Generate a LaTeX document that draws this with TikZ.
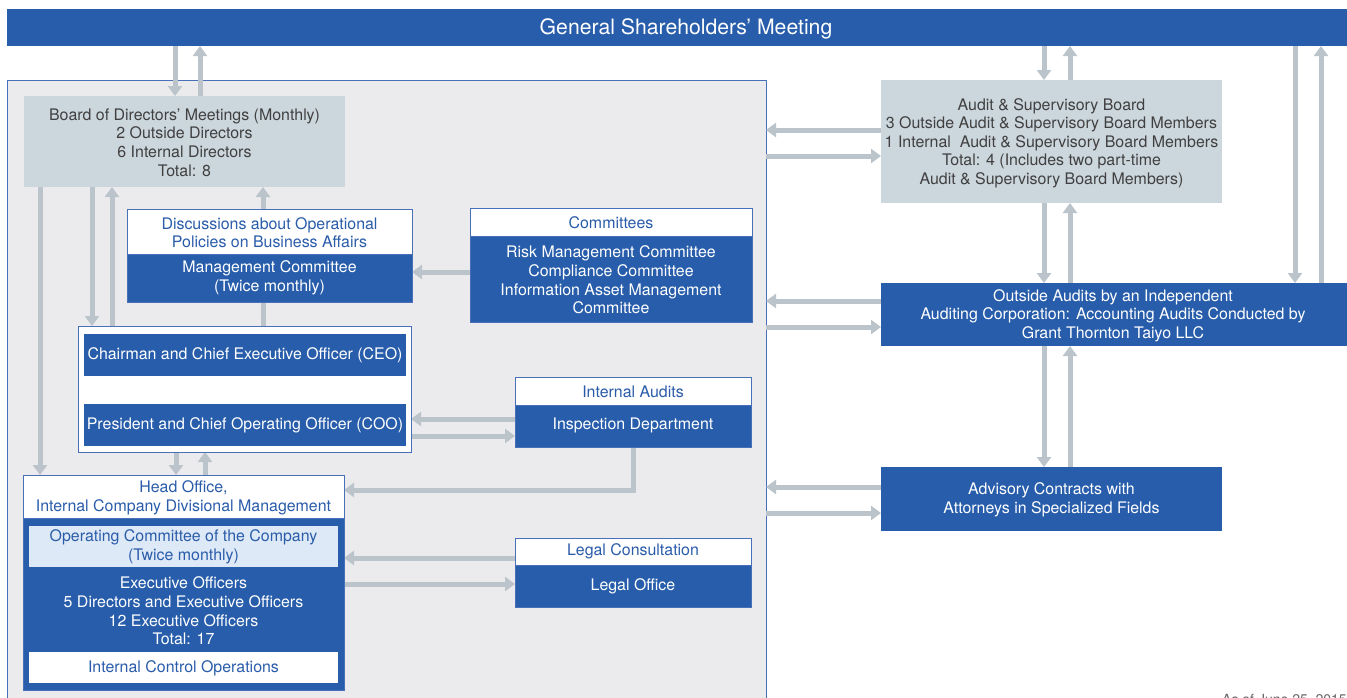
\documentclass[tikz,border=0pt]{standalone}
\usepackage{fontspec}
\setmainfont{TeX Gyre Heros}
\usetikzlibrary{arrows.meta,fit}
\definecolor{cblue}{RGB}{39,93,170}
\definecolor{cborder}{RGB}{72,112,184}
\definecolor{cgray}{RGB}{204,214,221}
\definecolor{carrow}{RGB}{186,196,202}
\definecolor{cpanel}{RGB}{235,235,238}
\definecolor{cbtext}{RGB}{42,92,170}
\definecolor{cgtext}{RGB}{64,64,64}
\definecolor{clight}{RGB}{221,233,246}
\pgfdeclarelayer{bg}
\pgfdeclarelayer{arrowlayer}
\pgfsetlayers{bg,arrowlayer,main}
\tikzset{
  box/.style={inner sep=0pt, outer sep=0pt},
  bluebox/.style={box, fill=cblue, draw=cborder, line width=0.6pt},
  whitebox/.style={box, fill=white, draw=cborder, line width=0.6pt},
  graybox/.style={box, fill=cgray},
  lightbox/.style={box, fill=clight},
  txt/.style={inner sep=0pt, align=center, font=\fontsize{11.95}{13.95}\selectfont},
  txtw/.style={txt, text=white},
  txtb/.style={txt, text=cbtext},
  txtg/.style={txt, text=cgtext},
  arr/.style={draw=carrow, line width=3.75pt, -{Triangle[width=10.5pt,length=7.5pt]}},
}
\begin{document}
\begin{tikzpicture}[x=0.75pt,y=-0.75pt]
\useasboundingbox (0,0) rectangle (1347,697);
% panel
\begin{pgfonlayer}{bg}
\node[box, fill=cpanel, draw=cborder, line width=0.6pt, fit={(7,80) (766,720)}] (panel) {};
\end{pgfonlayer}
% banner
\node[box, fill=cblue, fit={(7,9) (1347,46)}] (gsm) {};
\node[txtw, font=\fontsize{15.9}{18}\selectfont] (gsmt) at (686,28.5) {General Shareholders’ Meeting};
% board
\node[graybox, fit={(24,96) (345,187)}] (board) {};
\node[txtg] (boardt) at (184.5,142.5) {Board of Directors’ Meetings (Monthly)\\2 Outside Directors\\6 Internal Directors\\Total: 8};
% management
\node[bluebox, fit={(127,209) (412,302)}] (mgmt) {};
\node[whitebox, fit={(127,209) (412,254)}] (disc) {};
\node[txtb] (disct) at (269.5,232.5) {Discussions about Operational\\Policies on Business Affairs};
\node[txtw] (mgmtt) at (269.5,278) {Management Committee\\(Twice monthly)};
% committees
\node[bluebox, fit={(470,208) (752,322)}] (comm) {};
\node[whitebox, fit={(470,208) (752,236)}] (commh) {};
\node[txtb] (commht) at (611,222.5) {Committees};
\node[txtw] (commt) at (611,280) {Risk Management Committee\\Compliance Committee\\Information Asset Management\\Committee};
% CEO group
\node[whitebox, fit={(78,326) (411,452)}] (exec) {};
\node[box, fill=cblue, fit={(84,334) (406,376)}] (ceo) {};
\node[txtw] (ceot) at (245,355.5) {Chairman and Chief Executive Officer (CEO)};
\node[box, fill=cblue, fit={(84,404) (406,446)}] (coo) {};
\node[txtw] (coot) at (245,425.5) {President and Chief Operating Officer (COO)};
% internal audits
\node[bluebox, fit={(515,377) (751,447)}] (ia) {};
\node[whitebox, fit={(515,377) (751,405)}] (iah) {};
\node[txtb] (iaht) at (633,392) {Internal Audits};
\node[txtw] (iat) at (633,425.5) {Inspection Department};
% head office
\node[bluebox, fit={(23,475) (344,690)}] (ho) {};
\node[whitebox, fit={(23,475) (344,518)}] (hoh) {};
\node[txtb] (hoht) at (183.5,498) {Head Office,\\Internal Company Divisional Management};
\node[lightbox, fit={(29,526) (338,567)}] (opc) {};
\node[txtb] (opct) at (183.5,547) {Operating Committee of the Company\\(Twice monthly)};
\node[txtw] (eot) at (183.5,611) {Executive Officers\\5 Directors and Executive Officers\\12 Executive Officers\\Total: 17};
\node[box, fill=white, fit={(29,652) (338,683)}] (ico) {};
\node[txtb] (icot) at (183.5,668.5) {Internal Control Operations};
% legal
\node[bluebox, fit={(515,538) (751,607)}] (legal) {};
\node[whitebox, fit={(515,538) (751,565)}] (legalh) {};
\node[txtb] (legalht) at (633,551.5) {Legal Consultation};
\node[txtw] (legalt) at (633,586.5) {Legal Office};
% right side
\node[graybox, fit={(881,80) (1222,203)}] (asb) {};
\node[txtg] (asbt) at (1051.5,143) {Audit \& Supervisory Board\\3 Outside Audit \& Supervisory Board Members\\1 Internal~ Audit \& Supervisory Board Members\\Total: 4 (Includes two part-time\\Audit \& Supervisory Board Members)};
\node[box, fill=cblue, fit={(881,283) (1347,346)}] (oa) {};
\node[txtw] (oat) at (1113,315.5) {Outside Audits by an Independent\\Auditing Corporation: Accounting Audits Conducted by\\Grant Thornton Taiyo LLC};
\node[box, fill=cblue, fit={(881,467) (1222,531)}] (adv) {};
\node[txtw] (advt) at (1051.5,500) {Advisory Contracts with\\Attorneys in Specialized Fields};
% date (cut off at the bottom edge, as in the reference)
\node[txtg, anchor=north east, font=\fontsize{10.5}{12}\selectfont, text=cgtext!80] (date) at (1347,693.5) {As of June 25, 2015};
% connectors
\begin{pgfonlayer}{arrowlayer}
\draw[arr] (gsm.south -| 175,0) -- (board.north -| 175,0);
\draw[arr] (board.north -| 200,0) -- (gsm.south -| 200,0);
\draw[arr] (board.south -| 40,0) -- (ho.north -| 40,0);
\draw[arr] (board.south -| 92,0) -- (exec.north -| 92,0);
\draw[arr] (exec.north -| 112,0) -- (board.south -| 112,0);
\draw[arr] (exec.north -| 263,0) -- (board.south -| 263,0);
\draw[arr] (comm.west |- 0,272) -- (mgmt.east |- 0,272);
\draw[arr] (ceo.south -| 237,0) -- (coo.north -| 237,0);
\draw[arr] (coo.north -| 263,0) -- (ceo.south -| 263,0);
\draw[arr] (ia.west |- 0,419) -- (exec.east |- 0,419);
\draw[arr] (exec.east |- 0,436) -- (ia.west |- 0,436);
\draw[arr] (ia.south -| 633,0) |- (ho.east |- 0,490);
\draw[arr] (exec.south -| 176,0) -- (ho.north -| 176,0);
\draw[arr] (ho.north -| 205,0) -- (exec.south -| 205,0);
\draw[arr] (legal.west |- 0,558) -- (ho.east |- 0,558);
\draw[arr] (ho.east |- 0,584) -- (legal.west |- 0,584);
\draw[arr] (gsm.south -| 1044,0) -- (asb.north -| 1044,0);
\draw[arr] (asb.north -| 1070,0) -- (gsm.south -| 1070,0);
\draw[arr] (asb.west |- 0,130) -- (panel.east |- 0,130);
\draw[arr] (panel.east |- 0,156) -- (asb.west |- 0,156);
\draw[arr] (asb.south -| 1044,0) -- (oa.north -| 1044,0);
\draw[arr] (oa.north -| 1070,0) -- (asb.south -| 1070,0);
\draw[arr] (gsm.south -| 1295,0) -- (oa.north -| 1295,0);
\draw[arr] (oa.north -| 1321,0) -- (gsm.south -| 1321,0);
\draw[arr] (oa.west |- 0,301) -- (panel.east |- 0,301);
\draw[arr] (panel.east |- 0,327) -- (oa.west |- 0,327);
\draw[arr] (oa.south -| 1044,0) -- (adv.north -| 1044,0);
\draw[arr] (adv.north -| 1070,0) -- (oa.south -| 1070,0);
\draw[arr] (adv.west |- 0,487) -- (panel.east |- 0,487);
\draw[arr] (panel.east |- 0,513) -- (adv.west |- 0,513);
\end{pgfonlayer}
\end{tikzpicture}
\end{document}
